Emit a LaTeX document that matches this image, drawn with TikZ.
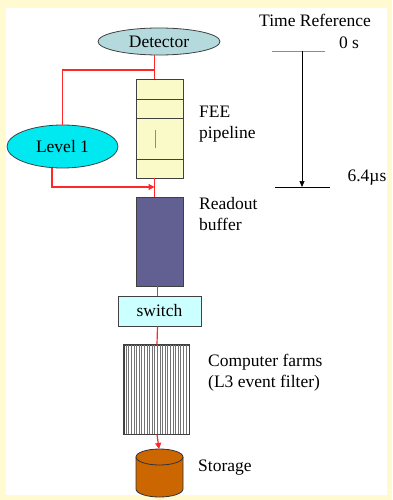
\documentclass[tikz,border=0pt]{standalone}
\usepackage{fontspec}
\setmainfont{Liberation Serif}
\usetikzlibrary{shapes.geometric,arrows.meta}

\definecolor{pagebg}{RGB}{255,250,208}
\definecolor{detfill}{RGB}{180,218,222}
\definecolor{lvlfill}{RGB}{0,232,240}
\definecolor{feefill}{RGB}{250,250,200}
\definecolor{rofill}{RGB}{98,96,146}
\definecolor{swfill}{RGB}{204,255,255}
\definecolor{storfill}{RGB}{204,102,0}
\definecolor{wirered}{RGB}{255,40,40}

\tikzset{
  lbl/.style={font=\fontsize{17.5}{21}\selectfont, inner sep=0pt, align=left},
  oval/.style={ellipse, draw=black!75, line width=0.8pt, inner sep=0pt, font=\fontsize{17.5}{21}\selectfont},
  block/.style={rectangle, draw=black!75, line width=0.8pt, inner sep=0pt},
  wire/.style={draw=wirered, line width=1.2pt},
  wirearrow/.style={wire, -{Triangle[length=6pt,width=6pt]}},
}

\begin{document}
\begin{tikzpicture}[x=1pt,y=-1pt]
  % page with pale border
  \fill[pagebg] (0,0) rectangle (392,500);
  \fill[white] (6,8) rectangle (387,495);
  \useasboundingbox (0,0) rectangle (392,500);

  % main chain
  \node[oval, fill=detfill, minimum width=122pt, minimum height=27pt] (det) at (159,41.5) {Detector};
  \node[oval, fill=lvlfill, minimum width=111pt, minimum height=43pt] (lvl) at (62.5,146.5) {Level 1};
  \node[block, fill=feefill, minimum width=47pt, minimum height=99pt] (fee) at (159.5,128.5) {};
  \node[block, fill=rofill, minimum width=47pt, minimum height=89pt] (ro) at (159.5,241.5) {};
  \node[block, fill=swfill, minimum width=83pt, minimum height=30pt,
        font=\fontsize{17.5}{21}\selectfont] (sw) at (159.5,311) {switch};
  \node[block, fill=white, minimum width=65pt, minimum height=89pt] (farm) at (156.5,389.5) {};

  % pipeline cells
  \draw[black!75, line width=0.8pt] (fee.west |- 0,99) -- (fee.east |- 0,99);
  \draw[black!75, line width=0.8pt] (fee.west |- 0,118) -- (fee.east |- 0,118);
  \draw[black!75, line width=0.8pt] (fee.west |- 0,159) -- (fee.east |- 0,159);
  \draw[black!45, line width=0.6pt] (155,130) -- (155,148);

  % farm stripes
  \foreach \i in {1,...,24}
    \draw[black!55, line width=0.9pt] ([xshift=\i*65/25 pt]farm.north west) -- ([xshift=\i*65/25 pt]farm.south west);
  \draw[black!75, line width=0.8pt] (farm.north west) rectangle (farm.south east);

  % storage drum
  \coordinate (stor) at (159,449);
  \fill[storfill, draw=black!80, line width=0.8pt]
    (136,457) -- (136,489) arc[start angle=180, end angle=360, x radius=23.5pt, y radius=8pt]
    -- (183,457) arc[start angle=0, end angle=180, x radius=23.5pt, y radius=8pt] -- cycle;
  \draw[black!80, line width=0.8pt] (183,457) arc[start angle=0, end angle=-180, x radius=23.5pt, y radius=8pt];

  % trigger wiring
  \coordinate (split) at (154.5,70);
  \coordinate (merge) at (154.5,187);
  \draw[wire] ([xshift=-4.5pt]det.south) -- ([xshift=-5pt]fee.north);
  \draw[wire] (split) -- (lvl.north |- split) -- (lvl.north);
  \draw[wirearrow] ([xshift=-10.5pt]lvl.south) -- ([xshift=-10.5pt]lvl.south |- merge) -- (merge);
  \draw[wire] ([xshift=-5pt]fee.south) -- ([xshift=-5pt]ro.north);
  \draw[wire] ([xshift=-2pt]ro.south) -- ([xshift=-2pt]sw.north);
  \draw[wire] ([xshift=-2pt]sw.south) -- ([xshift=0.5pt]farm.north);
  \draw[wirearrow] ([xshift=0.5pt]farm.south) -- (stor);

  % side labels
  \node[lbl, anchor=north west] (feel) at (199,106) {FEE\\pipeline};
  \node[lbl, anchor=north west] (rol) at (199,197) {Readout\\buffer};
  \node[lbl, anchor=north west] (farml) at (208,354) {Computer farms\\(L3 event filter)};
  \node[lbl, anchor=west] (storl) at (198,468) {Storage};

  % time reference scale
  \node[lbl] (tref) at (315,20) {Time Reference};
  \node[lbl] (t0) at (349,43) {0 s};
  \node[lbl] (t1) at (367,178) {6.4µs};
  \coordinate (ta) at (272,51);
  \coordinate (tb) at (325,51);
  \coordinate (tc) at (275,187);
  \coordinate (td) at (330,187);
  \coordinate (tstart) at (302,51);
  \coordinate (tend) at (302,187);
  \draw[black!45, line width=0.9pt] (ta) -- (tb);
  \draw[black, line width=0.9pt] (tc) -- (td);
  \draw[black, line width=0.7pt, -{Triangle[length=6pt,width=5pt]}] (tstart) -- (tend);
\end{tikzpicture}
\end{document}
